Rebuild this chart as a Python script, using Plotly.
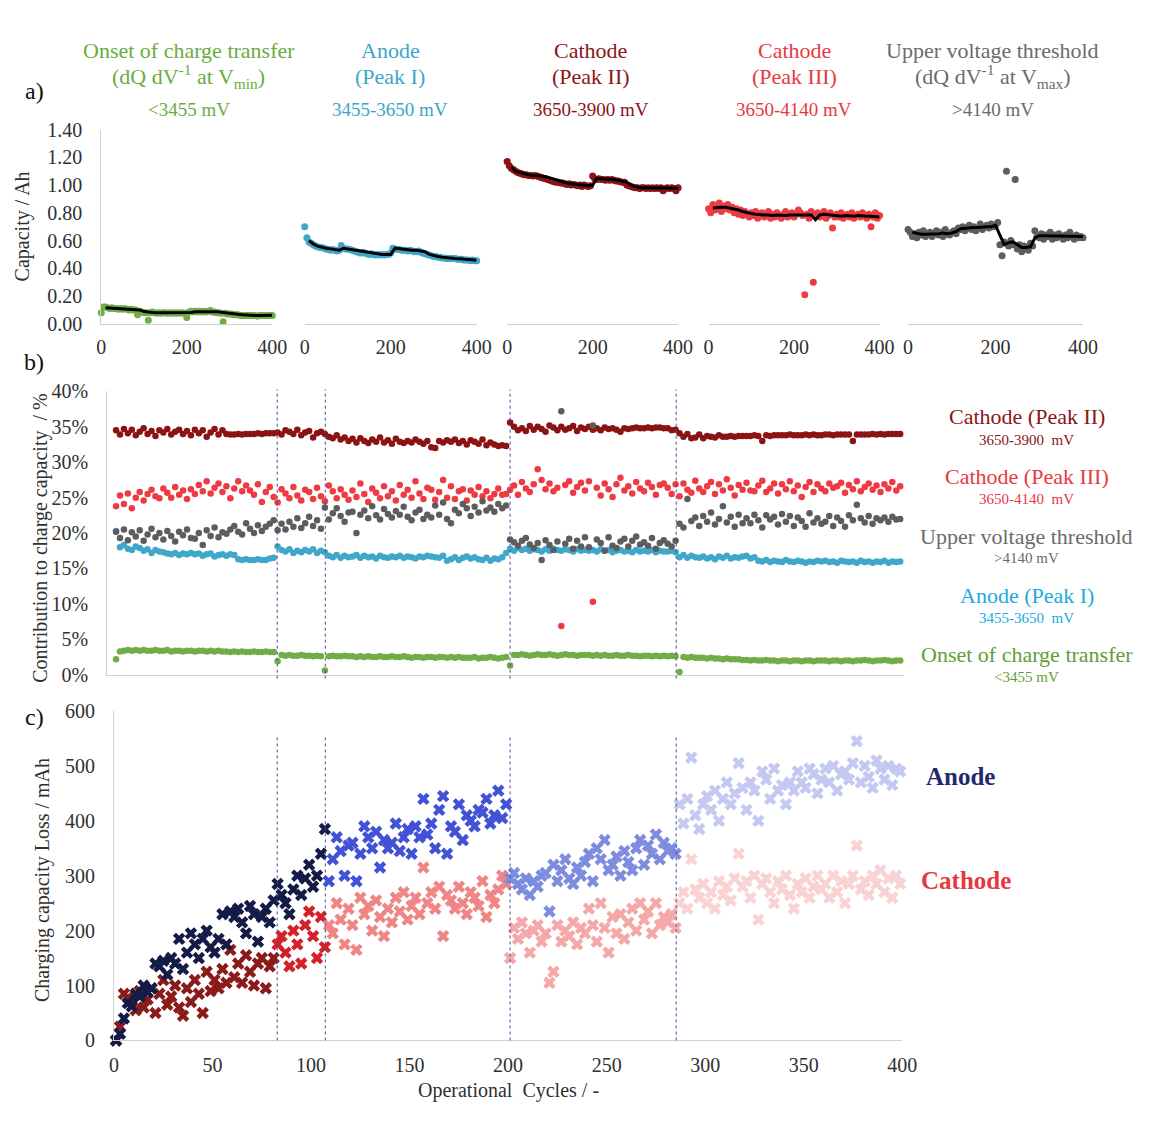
import plotly.graph_objects as go

# all positions below are page pixels, converted to paper fractions by fx / fy
W, H = 1153, 1124
FONT = "Liberation Serif, Times New Roman, serif"
AXIS = "#d0d0d0"
TICK = dict(family=FONT, size=20, color="#303030")


def fx(px):
    return px / W


def fy(py):
    return 1 - py / H


# ---------------- a) capacity of each dQ/dV region (Ah) ----------------
cycles_a = list(range(0, 401, 5))
cycles_trend = list(range(10, 401, 10))

onset_ah = [
    0.08, 0.12, 0.12, 0.115, 0.11, 0.115, 0.11, 0.11, 0.105, 0.11,
    0.105, 0.11, 0.105, 0.10, 0.105, 0.10, 0.10, 0.065, 0.09, 0.085,
    0.08, 0.08, 0.025, 0.08, 0.085, 0.08, 0.075, 0.08, 0.075, 0.08,
    0.08, 0.075, 0.08, 0.075, 0.08, 0.075, 0.08, 0.075, 0.08, 0.075,
    0.045, 0.085, 0.09, 0.085, 0.09, 0.085, 0.09, 0.085, 0.09, 0.085,
    0.09, 0.095, 0.085, 0.085, 0.08, 0.08, 0.075, 0.015, 0.075, 0.07,
    0.07, 0.07, 0.065, 0.065, 0.065, 0.06, 0.06, 0.06, 0.06, 0.06,
    0.06, 0.06, 0.06, 0.055, 0.06, 0.06, 0.06, 0.06, 0.06, 0.06,
    0.06,
]
anode_ah = [
    0.70, 0.62, 0.59, 0.58, 0.57, 0.56, 0.555, 0.55, 0.55, 0.545,
    0.54, 0.535, 0.53, 0.535, 0.53, 0.525, 0.53, 0.565, 0.545, 0.54,
    0.54, 0.535, 0.53, 0.525, 0.52, 0.515, 0.51, 0.515, 0.51, 0.505,
    0.50, 0.505, 0.50, 0.495, 0.50, 0.495, 0.50, 0.495, 0.50, 0.50,
    0.51, 0.545, 0.54, 0.535, 0.535, 0.53, 0.53, 0.53, 0.525, 0.53,
    0.525, 0.52, 0.52, 0.525, 0.515, 0.51, 0.505, 0.50, 0.495, 0.49,
    0.485, 0.485, 0.48, 0.48, 0.475, 0.475, 0.47, 0.47, 0.47, 0.47,
    0.47, 0.465, 0.465, 0.465, 0.46, 0.46, 0.46, 0.455, 0.46, 0.455,
    0.455,
]
cath2_ah = [
    1.17, 1.14, 1.12, 1.11, 1.10, 1.09, 1.085, 1.08, 1.075, 1.075,
    1.07, 1.07, 1.065, 1.07, 1.065, 1.06, 1.055, 1.05, 1.045, 1.04,
    1.035, 1.03, 1.025, 1.02, 1.02, 1.015, 1.015, 1.01, 1.005, 1.01,
    1.00, 1.005, 1.00, 0.995, 1.00, 0.99, 1.00, 0.995, 0.99, 0.995,
    1.065, 1.045, 1.04, 1.045, 1.04, 1.04, 1.035, 1.04, 1.035, 1.04,
    1.035, 1.03, 1.03, 1.025, 1.02, 1.02, 1.00, 0.995, 0.99, 0.985,
    0.98, 0.98, 0.975, 0.98, 0.98, 0.975, 0.98, 0.975, 0.98, 0.975,
    0.98, 0.975, 0.98, 0.96, 0.975, 0.98, 0.975, 0.98, 0.975, 0.96,
    0.98,
]
cath3_ah = [
    0.83, 0.80, 0.86, 0.82, 0.84, 0.87, 0.81, 0.85, 0.83, 0.86,
    0.82, 0.84, 0.80, 0.83, 0.79, 0.82, 0.78, 0.81, 0.79, 0.77,
    0.80, 0.78, 0.81, 0.76, 0.79, 0.80, 0.77, 0.79, 0.81, 0.76,
    0.79, 0.77, 0.80, 0.78, 0.76, 0.79, 0.81, 0.77, 0.78, 0.80,
    0.77, 0.79, 0.82, 0.80, 0.78, 0.21, 0.79, 0.76, 0.81, 0.30,
    0.78, 0.80, 0.77, 0.79, 0.81, 0.76, 0.78, 0.80, 0.69, 0.77,
    0.79, 0.77, 0.80, 0.76, 0.78, 0.79, 0.77, 0.80, 0.76, 0.78,
    0.79, 0.77, 0.80, 0.78, 0.76, 0.79, 0.70, 0.77, 0.80, 0.76,
    0.78,
]
upper_ah = [
    0.68, 0.66, 0.63, 0.65, 0.62, 0.66, 0.64, 0.67, 0.63, 0.65,
    0.66, 0.63, 0.65, 0.67, 0.64, 0.66, 0.63, 0.68, 0.65, 0.64,
    0.66, 0.67, 0.65, 0.69, 0.68, 0.70, 0.67, 0.69, 0.71, 0.68,
    0.70, 0.67, 0.69, 0.72, 0.68, 0.70, 0.71, 0.69, 0.72, 0.70,
    0.71, 0.73, 0.57, 0.49, 0.59, 1.10, 0.56, 0.60, 0.57, 1.04,
    0.54, 0.57, 0.52, 0.56, 0.55, 0.53, 0.58, 0.56, 0.67, 0.63,
    0.62, 0.65, 0.61, 0.64, 0.63, 0.66, 0.61, 0.64, 0.62, 0.65,
    0.63, 0.61, 0.64, 0.62, 0.66, 0.63, 0.61, 0.64, 0.62, 0.63,
    0.62,
]

# moving-average trend lines (Ah), cycles 10..400
onset_trend = [
    0.115, 0.113, 0.112, 0.110, 0.108, 0.107, 0.106, 0.104, 0.100, 0.088,
    0.083, 0.082, 0.080, 0.080, 0.079, 0.079, 0.079, 0.078, 0.078, 0.077,
    0.082, 0.086, 0.087, 0.087, 0.088, 0.088, 0.086, 0.083, 0.078, 0.073,
    0.070, 0.068, 0.065, 0.062, 0.060, 0.060, 0.060, 0.060, 0.060, 0.061,
]
anode_trend = [
    0.60, 0.575, 0.56, 0.55, 0.545, 0.54, 0.535, 0.53, 0.545, 0.54,
    0.535, 0.525, 0.52, 0.515, 0.51, 0.505, 0.505, 0.50, 0.50, 0.50,
    0.545, 0.54, 0.535, 0.535, 0.53, 0.53, 0.525, 0.52, 0.50, 0.49,
    0.485, 0.48, 0.475, 0.47, 0.47, 0.468, 0.465, 0.462, 0.46, 0.458,
]
cath2_trend = [
    1.13, 1.10, 1.09, 1.08, 1.075, 1.07, 1.07, 1.065, 1.06, 1.05,
    1.04, 1.03, 1.02, 1.015, 1.01, 1.005, 1.00, 1.00, 0.995, 1.00,
    1.05, 1.045, 1.045, 1.04, 1.04, 1.035, 1.03, 1.02, 1.00, 0.99,
    0.98, 0.98, 0.98, 0.98, 0.98, 0.978, 0.978, 0.978, 0.978, 0.978,
]
cath3_trend = [
    0.835, 0.84, 0.84, 0.84, 0.835, 0.83, 0.82, 0.81, 0.80, 0.795,
    0.79, 0.785, 0.785, 0.785, 0.78, 0.785, 0.78, 0.78, 0.785, 0.785,
    0.79, 0.79, 0.79, 0.785, 0.75, 0.785, 0.79, 0.785, 0.78, 0.775,
    0.775, 0.78, 0.775, 0.775, 0.78, 0.775, 0.775, 0.775, 0.77, 0.77,
]
upper_trend = [
    0.66, 0.65, 0.645, 0.645, 0.645, 0.65, 0.65, 0.655, 0.65, 0.655,
    0.665, 0.685, 0.69, 0.69, 0.695, 0.695, 0.70, 0.70, 0.70, 0.71,
    0.64, 0.57, 0.585, 0.59, 0.57, 0.55, 0.55, 0.555, 0.62, 0.635,
    0.635, 0.635, 0.635, 0.63, 0.635, 0.635, 0.63, 0.63, 0.63, 0.63,
]

# ---------------- b) contribution to charge capacity (%) ----------------
cycles_b = list(range(1, 400, 2))

cath2_pct = [
    34.5, 33.9, 34.7, 34.1, 34.6, 33.8, 34.3, 34.8, 34.0, 34.4, 33.7, 34.5, 34.2, 34.7, 33.9, 34.3, 34.6, 34.0, 34.4, 33.8,
    34.6, 34.1, 34.5, 33.6, 34.2, 34.7, 33.9, 34.5, 34.0, 33.9, 33.9, 34.0, 33.9, 34.0, 34.0, 34.0, 34.1, 34.0, 34.1, 34.1,
    34.1, 34.2, 33.9, 34.5, 34.3, 34.0, 34.6, 33.8, 34.2, 34.4, 33.5, 34.1, 34.3, 34.0, 33.6, 33.4, 33.8, 33.2, 33.5, 33.0,
    33.3, 32.8, 33.4, 33.0, 32.7, 33.2, 32.9, 33.5, 32.8, 33.1, 32.6, 33.3, 32.9, 32.7, 33.0, 32.8, 33.2, 32.9, 32.6, 33.0,
    32.1, 32.0, 33.0, 32.8, 33.1, 32.9, 33.2, 32.7, 33.0, 32.5, 33.1, 32.9, 32.6, 33.2, 32.4, 32.8, 32.5, 32.3, 32.4, 32.3,
    35.6, 35.0, 34.5, 34.8, 34.4, 35.1, 34.6, 35.0, 34.7, 34.3, 35.2, 34.9, 34.5, 35.0, 34.6, 34.8, 35.1, 34.4, 34.9, 34.7,
    35.0, 34.6, 34.8, 34.5, 34.9, 34.7, 34.8, 34.6, 34.3, 34.8, 34.7, 34.8, 34.9, 34.8, 34.8, 34.9, 34.8, 34.9, 34.9, 34.8,
    34.8, 34.5, 34.6, 34.1, 33.6, 34.0, 33.4, 33.5, 33.9, 33.4, 33.7, 33.6, 33.5, 33.8, 33.6, 33.6, 33.7, 33.6, 33.7, 33.7,
    33.7, 33.7, 33.8, 33.7, 33.0, 33.8, 33.7, 33.8, 33.8, 33.8, 33.8, 33.9, 33.8, 33.8, 33.8, 33.9, 33.8, 33.9, 33.8, 33.8,
    33.9, 33.9, 33.8, 33.9, 33.9, 33.9, 33.9, 33.0, 33.9, 33.9, 33.9, 33.9, 34.0, 33.9, 34.0, 33.9, 34.0, 34.0, 34.0, 34.0,
]
cath3_pct = [
    23.8, 25.3, 24.1, 25.6, 23.5, 25.0, 25.8, 24.6, 25.5, 26.1, 25.2, 24.9, 26.3, 25.7, 25.0, 26.5, 25.4, 26.0, 24.8, 26.2,
    25.5, 26.8, 25.9, 27.3, 25.6, 26.4, 27.0, 25.8, 26.6, 24.9, 26.3, 27.3, 25.9, 26.7, 26.0, 25.4, 26.9, 24.4, 25.8, 26.5,
    25.1, 24.3, 26.2, 25.6, 24.9, 26.5, 25.3, 24.6, 26.1, 25.8, 24.8, 26.4, 25.2, 24.5, 26.7, 25.9, 24.9, 26.2, 25.4, 24.7,
    26.0, 25.1, 27.0, 25.5, 24.4, 26.3, 25.7, 24.9, 26.6, 25.2, 25.9, 24.6, 26.8, 25.4, 26.1, 25.0, 27.3, 25.6, 24.8, 26.4,
    26.1, 24.7, 25.8, 27.5, 25.0, 26.6, 24.8, 25.9, 26.2, 24.6, 26.0, 25.4, 26.5, 25.2, 25.9, 24.9, 25.5, 26.3, 25.4, 25.5,
    26.1, 26.7, 25.4, 27.2, 26.3, 25.8, 26.9, 29.0, 27.5, 26.2, 27.0, 25.9, 26.4, 6.9, 26.8, 27.3, 25.7, 26.5, 27.1, 26.0,
    27.3, 10.3, 26.4, 25.3, 27.0, 26.2, 25.1, 26.9, 27.8, 26.0, 26.6, 25.6, 27.2, 26.3, 25.9, 27.1, 26.5, 25.4, 26.8, 27.0,
    26.4, 25.5, 26.9, 25.2, 27.0, 26.1, 25.7, 27.4, 26.3, 25.8, 26.6, 27.2, 25.5, 26.9, 26.0, 27.6, 26.4, 25.3, 26.8, 26.1,
    27.1, 26.0, 25.9, 26.7, 27.4, 25.8, 26.3, 27.0, 25.6, 26.9, 26.2, 27.3, 25.9, 26.7, 25.1, 26.5, 27.2, 25.8, 26.9, 26.3,
    25.9, 27.0, 26.4, 26.6, 27.1, 25.7, 26.8, 26.2, 27.3, 25.9, 26.5, 27.0, 26.1, 26.7, 25.8, 26.9, 26.3, 27.2, 26.0, 26.6,
]
upper_pct = [
    20.2, 19.3, 20.5, 19.0, 20.1, 19.5, 20.4, 18.9, 19.8, 20.6, 19.4, 20.0, 19.1, 20.3, 19.6, 18.8, 20.2, 19.7, 20.5, 19.3,
    19.2, 20.0, 18.3, 20.4, 19.6, 20.8, 19.4, 20.1, 19.9, 20.5, 21.0, 20.2, 19.8, 21.4, 20.6, 20.0, 21.1, 20.3, 20.9, 21.3,
    21.8, 20.4, 21.3, 20.5, 21.6, 20.9, 22.1, 20.7, 21.4, 22.3, 21.0, 21.8, 20.6, 23.6, 21.9, 22.8, 23.5, 22.4, 21.6, 22.9,
    23.0, 20.0, 22.6, 23.2, 22.1, 23.8, 22.5, 21.9, 23.4, 22.7, 22.2, 23.1, 22.6, 23.7, 22.3, 21.8, 22.9, 23.3, 22.0, 22.6,
    22.2, 23.9, 22.6, 24.3, 22.0, 21.4, 23.3, 22.8, 24.1, 23.5, 22.4, 23.7, 22.9, 24.5, 23.2, 23.6, 23.0, 24.1, 23.5, 23.9,
    19.1, 18.7, 18.2, 18.9, 19.3, 18.4, 17.9, 18.6, 16.2, 19.0, 18.3, 17.6, 18.8, 37.2, 18.5, 19.2, 17.8, 18.9, 18.1, 19.4,
    18.0, 35.2, 19.1, 18.6, 17.5, 19.4, 18.2, 17.9, 18.8, 19.2, 18.1, 18.9, 19.5, 18.4, 18.7, 18.2, 19.3, 17.8, 18.6, 19.0,
    18.5, 18.1, 18.9, 21.3, 20.8, 24.8, 21.7, 22.2, 21.0, 22.4, 21.6, 22.9, 21.2, 22.0, 23.8, 21.5, 22.3, 20.9, 22.6, 21.4,
    22.1, 21.4, 22.6, 21.8, 20.8, 22.5, 21.9, 22.3, 21.2, 22.7, 21.6, 22.4, 21.0, 22.2, 21.7, 20.9, 22.8, 21.5, 22.1, 21.3,
    21.6, 22.4, 21.0, 22.2, 21.7, 20.9, 22.5, 21.8, 24.0, 22.1, 21.5, 22.4, 21.3, 22.1, 21.8, 22.2, 21.6, 22.3, 21.9, 22.0,
]
anode_pct = [
    20.3, 18.0, 18.3, 17.8, 17.6, 18.1, 17.9, 17.5, 17.7, 17.2, 17.6, 17.4, 17.3, 17.1, 17.0, 17.2, 16.9, 17.1, 17.0, 17.2,
    17.0, 17.1, 16.8, 17.0, 17.1, 16.7, 16.9, 17.0, 16.8, 17.0, 16.9, 16.3, 16.2, 16.3, 16.2, 16.2, 16.3, 16.2, 16.2, 16.4,
    16.5, 18.1, 17.6, 17.4, 17.7, 17.2, 17.5, 17.3, 17.6, 17.4, 17.7, 17.2, 17.5, 17.3, 16.8, 16.6, 16.9, 16.5, 16.8, 16.6,
    16.7, 16.9, 16.5, 16.8, 16.6, 16.7, 16.4, 16.8, 16.6, 16.5, 16.7, 16.6, 16.8, 16.5, 16.7, 16.6, 16.4, 16.7, 16.6, 16.8,
    16.7, 16.6, 16.5, 16.8, 16.1, 16.3, 16.6, 16.2, 16.5, 16.7, 16.4, 16.6, 16.3, 16.2, 16.5, 16.1, 16.4, 16.3, 16.6, 17.2,
    17.8, 17.5, 17.9, 17.6, 17.8, 17.5, 17.7, 17.6, 17.4, 17.7, 17.5, 17.8, 17.6, 17.5, 17.7, 17.6, 17.4, 17.7, 17.5, 17.6,
    17.5, 17.6, 17.4, 17.7, 17.5, 17.6, 17.3, 17.5, 17.6, 17.4, 17.5, 17.3, 17.6, 17.4, 17.5, 17.4, 17.6, 17.3, 17.5, 17.4,
    17.4, 17.5, 17.3, 16.6, 16.9, 16.5, 16.8, 16.6, 16.5, 16.7, 16.4, 16.6, 16.3, 16.7, 16.5, 16.8, 16.4, 16.6, 16.5, 16.7,
    16.8, 16.4, 16.6, 16.1, 16.0, 16.2, 15.9, 16.1, 16.0, 15.9, 16.2, 16.0, 15.9, 16.1, 16.0, 15.8, 16.0, 15.9, 16.1, 16.0,
    16.1, 15.9, 16.0, 15.8, 16.1, 16.0, 15.9, 16.0, 15.8, 16.1, 15.9, 16.0, 15.8, 16.0, 15.9, 16.1, 15.8, 16.0, 15.9, 16.0,
]
onset_pct = [
    2.2, 3.3, 3.4, 3.5, 3.4, 3.5, 3.4, 3.5, 3.4, 3.4, 3.5, 3.4, 3.4, 3.5, 3.3, 3.4, 3.4, 3.3, 3.4, 3.4,
    3.3, 3.4, 3.4, 3.3, 3.4, 3.3, 3.4, 3.3, 3.3, 3.2, 3.3, 3.2, 3.3, 3.2, 3.2, 3.3, 3.2, 3.2, 3.3, 3.2,
    3.2, 1.9, 2.8, 2.7, 2.8, 2.7, 2.7, 2.8, 2.7, 2.7, 2.6, 2.7, 2.6, 0.6, 2.6, 2.7, 2.6, 2.6, 2.7, 2.6,
    2.6, 2.5, 2.6, 2.5, 2.6, 2.5, 2.5, 2.6, 2.5, 2.5, 2.6, 2.5, 2.5, 2.6, 2.5, 2.4, 2.5, 2.5, 2.4, 2.5,
    2.5, 2.4, 2.5, 2.5, 2.4, 2.5, 2.4, 2.5, 2.4, 2.4, 2.4, 2.5, 2.3, 2.4, 2.4, 2.5, 2.4, 2.3, 2.4, 2.5,
    1.3, 2.8, 2.8, 2.9, 2.8, 2.7, 2.8, 2.9, 2.8, 2.8, 2.9, 2.8, 2.7, 2.8, 2.9, 2.8, 2.8, 2.7, 2.8, 2.8,
    2.8, 2.7, 2.8, 2.7, 2.8, 2.7, 2.7, 2.8, 2.7, 2.7, 2.8, 2.7, 2.7, 2.6, 2.7, 2.7, 2.6, 2.7, 2.6, 2.7,
    2.6, 2.7, 2.6, 0.4, 2.5, 2.4, 2.5, 2.4, 2.4, 2.4, 2.3, 2.4, 2.3, 2.3, 2.2, 2.3, 2.2, 2.2, 2.2, 2.1,
    2.1, 2.0, 2.1, 2.0, 2.0, 2.1, 2.0, 2.0, 1.9, 2.0, 2.0, 1.9, 2.0, 2.0, 1.9, 2.0, 2.0, 1.9, 2.0, 2.0,
    2.0, 1.9, 2.0, 2.0, 1.9, 2.0, 2.0, 1.9, 2.0, 2.0, 2.1, 2.0, 1.9, 2.0, 2.0, 2.1, 2.0, 1.9, 2.0, 2.0,
]

# ---------------- c) charging capacity loss (mAh) ----------------
cycles_c = list(range(1, 400, 2))

anode_loss = [
    0, 12, 40, 68, 62, 85, 80, 100, 88, 95, 140, 135, 145, 120, 150, 140, 185, 130, 160, 195,
    175, 150, 185, 200, 170, 160, 185, 230, 175, 235, 225, 240, 215, 195, 245, 230, 180, 225, 240, 215,
    255, 285, 265, 250, 230, 275, 300, 265, 295, 320, 280, 300, 340, 385, 290, 330, 370, 345, 300, 355,
    360, 290, 340, 390, 370, 350, 380, 315, 365, 350, 360, 395, 345, 370, 385, 340, 390, 370, 440, 375,
    395, 350, 420, 445, 340, 390, 380, 430, 365, 410, 400, 390, 420, 415, 440, 395, 410, 455, 405, 430,
    295, 305, 285, 275, 295, 265, 290, 280, 300, 305, 235, 320, 290, 310, 330, 295, 285, 315, 300, 325,
    340, 290, 350, 330, 365, 310, 320, 335, 300, 345, 325, 310, 350, 365, 320, 355, 340, 375, 330, 360,
    345, 350, 340, 430, 395, 440, 515, 410, 385, 430, 445, 420, 455, 400, 440, 470, 430, 450, 505, 460,
    420, 470, 455, 400, 490, 475, 440, 495, 455, 465, 430, 470, 455, 490, 470, 460, 495, 485, 450, 475,
    495, 470, 500, 455, 485, 490, 475, 505, 545, 470, 500, 480, 460, 510, 495, 475, 500, 465, 495, 490,
]
cathode_loss = [
    0, 25, 85, 78, 70, 55, 90, 60, 75, 95, 50, 85, 110, 65, 80, 100, 60, 45, 95, 70,
    110, 85, 50, 125, 90, 110, 95, 130, 105, 165, 115, 140, 105, 155, 125, 100, 140, 150, 95, 135,
    150, 175, 190, 160, 135, 200, 175, 140, 210, 235, 190, 150, 225, 170, 210, 195, 250, 220, 175, 240,
    210, 165, 260, 230, 245, 200, 255, 225, 190, 240, 215, 260, 235, 270, 220, 245, 260, 230, 315, 250,
    270, 240, 280, 190, 265, 255, 240, 280, 250, 230, 270, 260, 245, 290, 225, 265, 250, 275, 300, 285,
    150, 205, 185, 215, 195, 160, 200, 210, 180, 195, 105, 125, 210, 180, 200, 190, 215, 175, 205, 195,
    240, 210, 180, 250, 205, 160, 225, 195, 230, 185, 215, 240, 200, 250, 220, 235, 195, 250, 210, 225,
    215, 230, 205, 250, 270, 240, 330, 275, 260, 285, 250, 270, 240, 290, 265, 280, 255, 295, 340, 280,
    290, 260, 300, 220, 285, 295, 270, 250, 290, 275, 300, 265, 240, 285, 270, 295, 260, 280, 300, 275,
    285, 260, 300, 270, 290, 250, 285, 300, 355, 275, 290, 265, 300, 285, 310, 270, 295, 260, 300, 285,
]

# cycle boundaries between operating periods and their marker colours
period_edges = [0, 82.8, 107.5, 201, 285.5, 401]
anode_colors = ["#141b47", "#141b47", "#4152d6", "#7e8ce0", "#c3c9f0"]
cathode_colors = ["#8b1a1a", "#d42027", "#f08585", "#f4a8a8", "#f9d3d3"]
period_lines = [82.8, 107.2, 201, 285.3]

fig = go.Figure()

# ---- panel a traces ----
a_series = [
    (onset_ah, onset_trend, "#70ad47"),
    (anode_ah, anode_trend, "#3fa7c9"),
    (cath2_ah, cath2_trend, "#8b1313"),
    (cath3_ah, cath3_trend, "#ee3b43"),
    (upper_ah, upper_trend, "#5d5d5d"),
]
for i, (vals, trend, col) in enumerate(a_series, start=1):
    sfx = "" if i == 1 else str(i)
    fig.add_trace(go.Scatter(
        x=cycles_a, y=vals, mode="markers", xaxis="x" + sfx, yaxis="y" + sfx,
        marker=dict(size=7, color=col), cliponaxis=False, showlegend=False,
    ))
    fig.add_trace(go.Scatter(
        x=cycles_trend, y=trend, mode="lines", xaxis="x" + sfx, yaxis="y" + sfx,
        line=dict(color="black", width=3), showlegend=False,
    ))

# ---- panel b traces ----
b_series = [
    (cath2_pct, "#8b1313"),
    (cath3_pct, "#ee3b43"),
    (anode_pct, "#3fa7c9"),
    (upper_pct, "#5d5d5d"),
    (onset_pct, "#70ad47"),
]
for vals, col in b_series:
    fig.add_trace(go.Scatter(
        x=cycles_b, y=vals, mode="markers", xaxis="x6", yaxis="y6",
        marker=dict(size=6.5, color=col), cliponaxis=False, showlegend=False,
    ))

# ---- panel c traces, one per operating period ----
for loss, colors in ((cathode_loss, cathode_colors), (anode_loss, anode_colors)):
    for k in range(len(colors)):
        lo, hi = period_edges[k], period_edges[k + 1]
        xs = [c for c in cycles_c if lo <= c < hi]
        ys = [v for c, v in zip(cycles_c, loss) if lo <= c < hi]
        fig.add_trace(go.Scatter(
            x=xs, y=ys, mode="markers", xaxis="x7", yaxis="y7",
            marker=dict(symbol="x", size=11, color=colors[k], line=dict(width=0)),
            cliponaxis=False, showlegend=False,
        ))

layout = dict(
    width=W, height=H, autosize=False,
    margin=dict(l=0, r=0, t=0, b=0),
    paper_bgcolor="white", plot_bgcolor="white",
    font=dict(family=FONT, color="#303030"),
    showlegend=False,
)

a_domains = [(98, 272), (305, 480), (511, 685), (716, 890), (919, 1097)]
for i, (x0, x1) in enumerate(a_domains, start=1):
    sfx = "" if i == 1 else str(i)
    layout["xaxis" + sfx] = dict(
        domain=[fx(x0), fx(x1)], range=[0, 400], anchor="y" + sfx,
        tickvals=[0, 200, 400], showline=True, linecolor=AXIS, linewidth=1,
        ticks="", ticklabelstandoff=5, tickfont=TICK,
        showgrid=False, zeroline=False,
    )
    layout["yaxis" + sfx] = dict(
        domain=[fy(319), fy(121)], range=[0, 1.4], anchor="x" + sfx,
        showgrid=False, zeroline=False, showline=(i == 1), linecolor=AXIS,
        showticklabels=(i == 1), dtick=0.2, tickformat=".2f",
        ticks="", ticklabelstandoff=14, tickfont=TICK,
    )

layout["xaxis6"] = dict(
    domain=[fx(104), fx(915)], range=[-3.5, 401], anchor="y6",
    showline=True, linecolor=AXIS, showticklabels=False, ticks="",
    showgrid=False, zeroline=False,
)
layout["yaxis6"] = dict(
    domain=[fy(677), fy(388)], range=[0, 40], anchor="x6", dtick=5,
    ticksuffix="%", showline=True, linecolor=AXIS, ticks="",
    ticklabelstandoff=14, tickfont=TICK, showgrid=False, zeroline=False,
)
layout["xaxis7"] = dict(
    domain=[fx(111), fx(913)], range=[0, 400], anchor="y7", dtick=50,
    showline=True, linecolor=AXIS, ticks="", ticklabelstandoff=7,
    tickfont=TICK, showgrid=False, zeroline=False,
)
layout["yaxis7"] = dict(
    domain=[fy(1050), fy(714)], range=[0, 600], anchor="x7", dtick=100,
    showline=True, linecolor=AXIS, ticks="", ticklabelstandoff=14,
    tickfont=TICK, showgrid=False, zeroline=False,
)

# dashed period separators through panels b and c
shapes = []
for xc in period_lines:
    for y0, y1 in ((386, 681), (740, 1050)):
        shapes.append(dict(
            type="line", xref="x7", yref="paper", x0=xc, x1=xc,
            y0=fy(y1), y1=fy(y0),
            line=dict(color="#4a4a9a", width=1, dash="dot"),
        ))
layout["shapes"] = shapes


def label(text, x, y, size, color, bold=False, angle=0):
    return dict(
        text=f"<b>{text}</b>" if bold else text,
        x=fx(x), y=fy(y), xref="paper", yref="paper", showarrow=False,
        font=dict(family=FONT, size=size, color=color),
        textangle=angle, xanchor="center", yanchor="middle",
    )


GREEN_T, BLUE_T, DRED_T, RED_T, GREY_T = "#6aab42", "#3ba6c9", "#8b1418", "#e8383f", "#6b6b6b"
LEG_X = 1040
ann = [
    label("a)", 30, 82, 24, "#111111"),
    label("b)", 30, 358, 24, "#111111"),
    label("c)", 30, 720, 24, "#111111"),
    # panel a headers
    label("Onset of charge transfer", 187, 40, 22, GREEN_T),
    label("(dQ dV<sup>-1</sup> at V<sub>min</sub>)", 187, 67, 22, GREEN_T),
    label("&lt;3455 mV", 187, 100, 19, GREEN_T),
    label("Anode", 392, 40, 22, BLUE_T),
    label("(Peak I)", 392, 67, 22, BLUE_T),
    label("3455-3650 mV", 392, 100, 19, BLUE_T),
    label("Cathode", 596, 40, 22, DRED_T),
    label("(Peak II)", 596, 67, 22, DRED_T),
    label("3650-3900 mV", 596, 100, 19, DRED_T),
    label("Cathode", 803, 40, 22, RED_T),
    label("(Peak III)", 803, 67, 22, RED_T),
    label("3650-4140 mV", 803, 100, 19, RED_T),
    label("Upper voltage threshold", 1005, 40, 22, GREY_T),
    label("(dQ dV<sup>-1</sup> at V<sub>max</sub>)", 1005, 67, 22, GREY_T),
    label("&gt;4140 mV", 1005, 100, 19, GREY_T),
    # axis titles
    label("Capacity / Ah", 18, 220, 20, "#303030", angle=-90),
    label("Contribution to charge capacity  / %", 36, 537, 20, "#303030", angle=-90),
    label("Charging capacity Loss / mAh", 38, 886, 20, "#303030", angle=-90),
    label("Operational  Cycles / -", 512, 1101, 20, "#303030"),
    # panel b series labels
    label("Cathode (Peak II)", LEG_X, 414, 22, "#8b1418"),
    label("3650-3900  mV", LEG_X, 438, 15, "#8b1418"),
    label("Cathode (Peak III)", LEG_X, 475, 22, "#e8383f"),
    label("3650-4140  mV", LEG_X, 498, 15, "#e8383f"),
    label("Upper voltage threshold", LEG_X, 536, 22, "#6b6b6b"),
    label("&gt;4140 mV", LEG_X, 558, 15, "#6b6b6b"),
    label("Anode (Peak I)", LEG_X, 596, 22, "#1aaae0"),
    label("3455-3650  mV", LEG_X, 619, 15, "#1aaae0"),
    label("Onset of charge transfer", LEG_X, 656, 22, "#5e9e3a"),
    label("&lt;3455 mV", LEG_X, 679, 15, "#5e9e3a"),
    # panel c series labels
    label("Anode", 972, 781, 25, "#1f2a6e", bold=True),
    label("Cathode", 978, 887, 25, "#e8383f", bold=True),
]
layout["annotations"] = ann

fig.update_layout(**layout)
fig.write_html("out.html")
